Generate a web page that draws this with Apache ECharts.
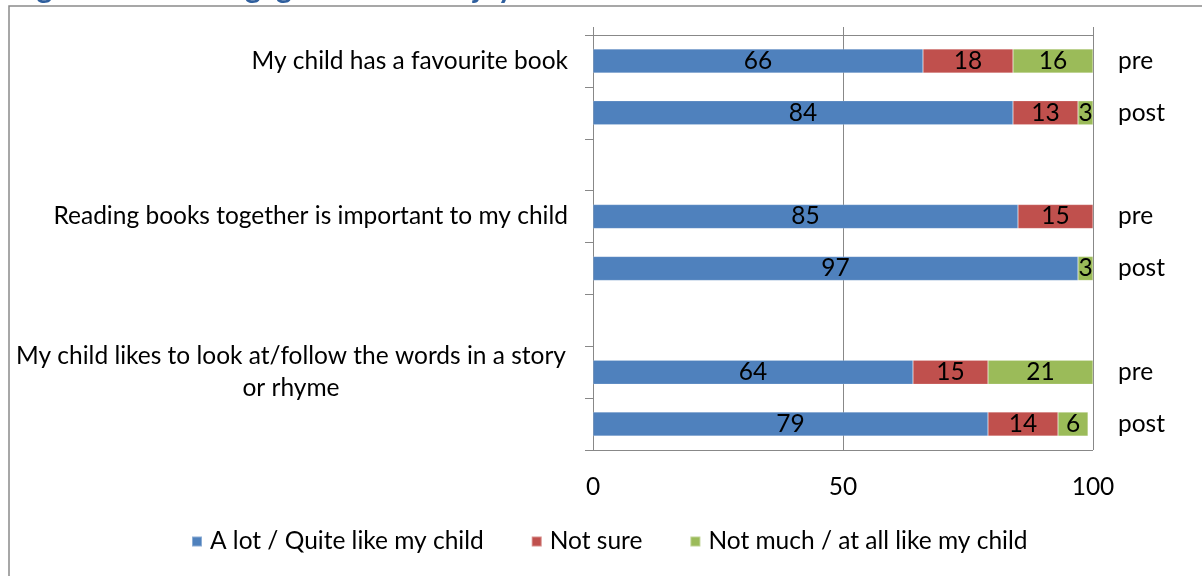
<!DOCTYPE html>
<html>
<head>
<meta charset="utf-8">
<script src="https://cdn.jsdelivr.net/npm/echarts@6/dist/echarts.min.js"></script>
<style>
html,body{margin:0;padding:0;background:#fff;}
#chart{width:1202px;height:576px;}
</style>
</head>
<body>
<div id="chart"></div>
<script>
var titleText = 'Figure 5: Child engagement and enjoyment';
var rowLabels = ['My child has a favourite book', '', '', 'Reading books together is important to my child', '', '', 'My child likes to look at/follow the words in a story\nor rhyme', ''];
var phaseLabels = ['pre', 'post', '', 'pre', 'post', '', 'pre', 'post'];
var seriesNames = ['A lot / Quite like my child', 'Not sure', 'Not much / at all like my child'];
var aLot    = [66, 84, null, 85, 97, null, 64, 79];
var notSure = [18, 13, null, 15, null, null, 15, 14];
var notMuch = [16, 3, null, null, 3, null, 21, 6];
var xTicks = [0, 50, 100];

var FONT = 'Lato';
var FS = 24.5;
var colors = ['#4F81BD', '#C0504D', '#9BBB59'];
var chart = echarts.init(document.getElementById('chart'), null, {renderer: 'canvas'});

function barSeries(name, data, color) {
  return {
    name: name, type: 'bar', stack: 'total', data: data, barWidth: 24,
    xAxisIndex: 0, yAxisIndex: 0,
    itemStyle: {color: color, borderColor: 'rgba(255,255,255,0.35)', borderWidth: 0.5},
    label: {show: true, position: 'inside', color: '#000', fontFamily: FONT, fontSize: FS,
      formatter: function (p) { return p.value ? String(p.value) : ''; }},
    emphasis: {disabled: true}, animation: false
  };
}

chart.setOption({
  animation: false,
  textStyle: {fontFamily: FONT},
  graphic: [
    {type: 'rect', shape: {x: 9, y: 6, width: 1300, height: 700}, style: {fill: 'none', stroke: '#8a8a8a', lineWidth: 1.5}, silent: true, z: 0},
    {type: 'text', x: 12, y: -27, style: {text: titleText, fontFamily: FONT, fontWeight: 'bold', fontSize: 30, fill: '#2F5F9E', verticalAlign: 'top', align: 'left'}, silent: true, z: 10}
  ],
  grid: {left: 593, right: 109, top: 35, bottom: 126, containLabel: false},
  legend: {
    data: seriesNames, top: 524, left: 186, icon: 'rect', itemWidth: 10, itemHeight: 10, itemGap: 47,
    textStyle: {fontFamily: FONT, fontSize: FS, color: '#000', padding: [0, 0, 0, 3]}, selectedMode: false
  },
  xAxis: [
    {type: 'value', position: 'bottom', min: 0, max: 100, interval: 50,
     axisLine: {show: false}, axisTick: {show: false},
     axisLabel: {color: '#000', fontFamily: FONT, fontSize: FS, margin: 25,
       formatter: function (v) { return xTicks.indexOf(v) >= 0 ? String(v) : ''; }},
     splitLine: {show: true, lineStyle: {color: '#888', width: 1}}},
    {type: 'value', position: 'top', min: 0, max: 100, interval: 50,
     axisLine: {show: true, onZero: false, lineStyle: {color: '#888', width: 1}},
     axisTick: {show: true, length: 8, lineStyle: {color: '#888'}},
     axisLabel: {show: false}, splitLine: {show: false}}
  ],
  yAxis: [
    {type: 'category', data: rowLabels, inverse: true, position: 'left',
     axisLine: {show: true, onZero: false, lineStyle: {color: '#888', width: 1}},
     axisTick: {show: true, length: 8, interval: 0, lineStyle: {color: '#888'}},
     splitLine: {show: true, interval: function (i) { return i === 0; }, lineStyle: {color: '#888', width: 1}},
     axisLabel: {interval: 0, color: '#000', fontFamily: FONT, fontSize: FS, margin: 25, lineHeight: 32, align: 'right',
       formatter: function (v) {
         if (v.indexOf('\n') >= 0) { return v.split('\n').map(function (s) { return '{c|' + s + '}'; }).join('\n'); }
         return v;
       },
       rich: {c: {align: 'center', width: 554, fontFamily: FONT, fontSize: FS, color: '#000', lineHeight: 32}}}},
    {type: 'category', data: phaseLabels, inverse: true, position: 'right',
     axisLine: {show: false}, axisTick: {show: false},
     axisLabel: {interval: 0, color: '#000', fontFamily: FONT, fontSize: FS, margin: 25, align: 'left'}}
  ],
  series: [
    barSeries(seriesNames[0], aLot, colors[0]),
    barSeries(seriesNames[1], notSure, colors[1]),
    barSeries(seriesNames[2], notMuch, colors[2]),
    {type: 'bar', yAxisIndex: 1, xAxisIndex: 1, data: phaseLabels.map(function () { return null; }), silent: true}
  ]
});
</script>
</body>
</html>
